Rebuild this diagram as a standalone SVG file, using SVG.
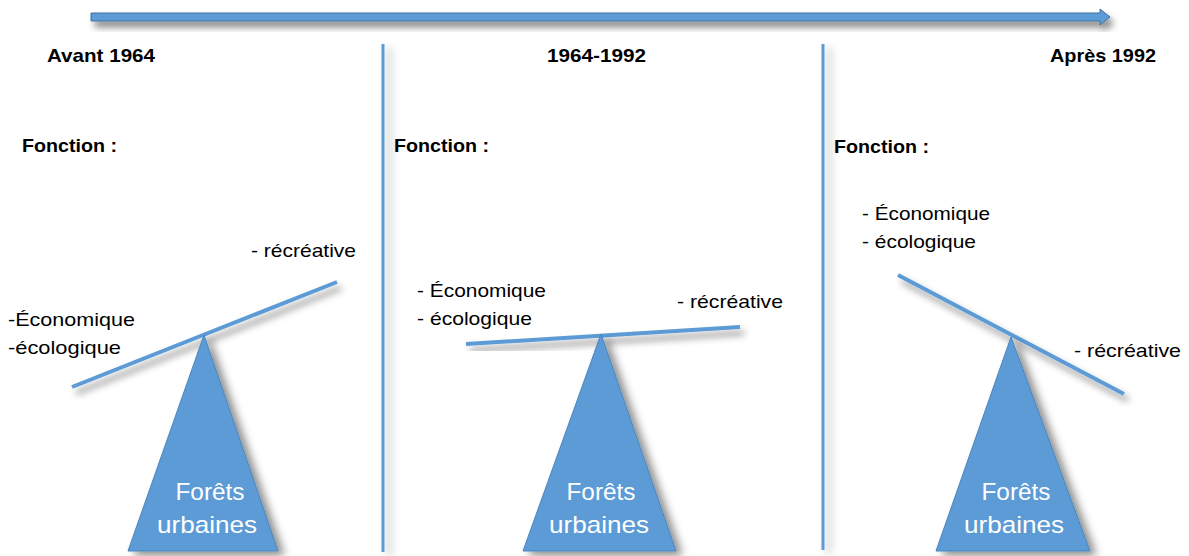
<svg xmlns="http://www.w3.org/2000/svg" width="1189" height="556" viewBox="0 0 1189 556">
<defs>
<filter id="sh" x="-20%" y="-20%" width="140%" height="160%">
<feDropShadow dx="4" dy="6" stdDeviation="3.5" flood-color="#000" flood-opacity="0.45"/>
</filter>
<filter id="shv" filterUnits="userSpaceOnUse" x="0" y="0" width="1189" height="556">
<feDropShadow dx="6" dy="4" stdDeviation="4" flood-color="#000" flood-opacity="0.3"/>
</filter>
<filter id="sht" x="-30%" y="-10%" width="160%" height="130%">
<feDropShadow dx="6" dy="4" stdDeviation="4" flood-color="#000" flood-opacity="0.45"/>
</filter>
</defs>
<style>
.hd{font-family:"Liberation Sans",Arial,sans-serif;font-weight:bold;font-size:19px;fill:#000}
.lb{font-family:"Liberation Sans",Arial,sans-serif;font-size:19px;fill:#000}
.tw{font-family:"Liberation Sans",Arial,sans-serif;font-size:24px;fill:#fff;text-anchor:middle}
.beam{stroke:#5B9BD5;stroke-width:4;stroke-linecap:butt;fill:none}
.sep{fill:#5B9BD5}
.tri{fill:#5B9BD5;stroke:#4A85BE;stroke-width:1}
</style>
<rect width="1189" height="556" fill="#fff"/>
<g id="connectors">
<path id="timeline" d="M91,13 H1100 V9 L1110,17 L1100,25 V21 H91 Z" fill="#5B9BD5" stroke="#41719C" stroke-width="1" filter="url(#sh)"/>
<rect class="sep" x="381.5" y="44" width="3" height="508" filter="url(#shv)"/>
<rect class="sep" x="821.5" y="44" width="3" height="506" filter="url(#shv)"/>
</g>
<g id="headers">
<text class="hd" x="47" y="62" textLength="108" lengthAdjust="spacingAndGlyphs">Avant 1964</text>
<text class="hd" x="547" y="62" textLength="99" lengthAdjust="spacingAndGlyphs">1964-1992</text>
<text class="hd" x="1050" y="62" textLength="106" lengthAdjust="spacingAndGlyphs">Après 1992</text>
</g>
<g id="panel1">
<text class="hd" x="22" y="152" textLength="95" lengthAdjust="spacingAndGlyphs">Fonction :</text>
<line class="beam" x1="72" y1="387" x2="337" y2="282" filter="url(#sh)"/>
<path class="tri" d="M204,335 L278,551 L128,551 Z" filter="url(#sht)"/>
<text class="tw" x="210" y="500" textLength="69" lengthAdjust="spacingAndGlyphs">Forêts</text>
<text class="tw" x="207" y="533" textLength="100" lengthAdjust="spacingAndGlyphs">urbaines</text>
<text class="lb" x="251" y="257" textLength="105" lengthAdjust="spacingAndGlyphs">- récréative</text>
<text class="lb" x="8" y="326" textLength="127" lengthAdjust="spacingAndGlyphs">-Économique</text>
<text class="lb" x="8" y="354" textLength="113" lengthAdjust="spacingAndGlyphs">-écologique</text>
</g>
<g id="panel2">
<text class="hd" x="394" y="152" textLength="95" lengthAdjust="spacingAndGlyphs">Fonction :</text>
<line class="beam" x1="466" y1="344" x2="740" y2="327" filter="url(#sh)"/>
<path class="tri" d="M601,334 L676,551 L523,551 Z" filter="url(#sht)"/>
<text class="tw" x="601" y="500" textLength="69" lengthAdjust="spacingAndGlyphs">Forêts</text>
<text class="tw" x="599" y="533" textLength="100" lengthAdjust="spacingAndGlyphs">urbaines</text>
<text class="lb" x="417" y="297" textLength="129" lengthAdjust="spacingAndGlyphs">- Économique</text>
<text class="lb" x="417" y="325" textLength="115" lengthAdjust="spacingAndGlyphs">- écologique</text>
<text class="lb" x="677" y="308" textLength="106" lengthAdjust="spacingAndGlyphs">- récréative</text>
</g>
<g id="panel3">
<text class="hd" x="834" y="153" textLength="95" lengthAdjust="spacingAndGlyphs">Fonction :</text>
<line class="beam" x1="898" y1="275" x2="1124" y2="394" filter="url(#sh)"/>
<path class="tri" d="M1011,337 L1090,551 L936,551 Z" filter="url(#sht)"/>
<text class="tw" x="1016" y="500" textLength="69" lengthAdjust="spacingAndGlyphs">Forêts</text>
<text class="tw" x="1014" y="533" textLength="100" lengthAdjust="spacingAndGlyphs">urbaines</text>
<text class="lb" x="862" y="220" textLength="128" lengthAdjust="spacingAndGlyphs">- Économique</text>
<text class="lb" x="862" y="248" textLength="114" lengthAdjust="spacingAndGlyphs">- écologique</text>
<text class="lb" x="1074" y="357" textLength="107" lengthAdjust="spacingAndGlyphs">- récréative</text>
</g>
</svg>
